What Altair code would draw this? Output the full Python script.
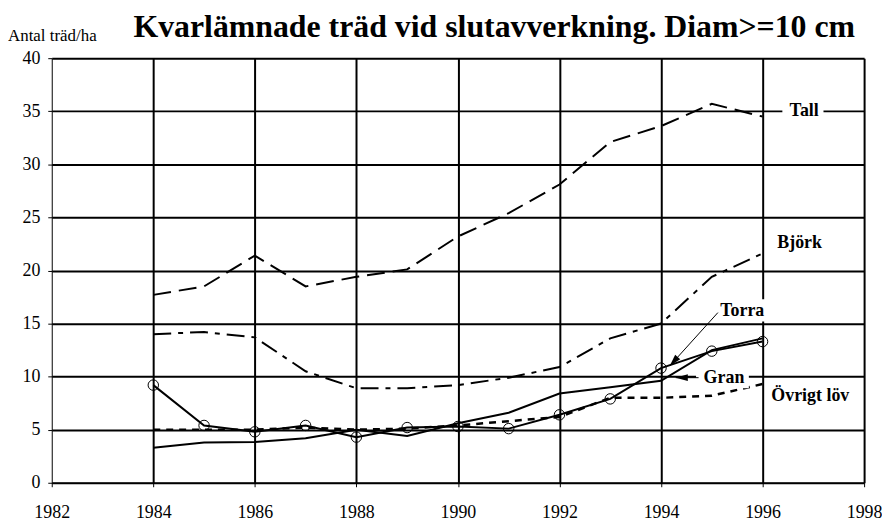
import altair as alt
import pandas as pd

years = list(range(1984, 1997))
tall = [17.7, 18.5, 21.4, 18.5, 19.4, 20.1, 23.2, 25.4, 28.1, 32.1, 33.6, 35.7, 34.5]
bjork = [14.0, 14.2, 13.7, 10.5, 8.9, 8.9, 9.2, 9.9, 10.9, 13.6, 15.0, 19.4, 21.6]
torra = [9.2, 5.4, 4.8, 5.4, 4.3, 5.2, 5.3, 5.1, 6.4, 7.9, 10.8, 12.4, 13.3]
gran = [3.3, 3.8, 3.85, 4.2, 5.0, 4.4, 5.6, 6.6, 8.4, 9.0, 9.6, 12.5, 13.6]
ovrigt = [5.0, 5.0, 5.0, 5.2, 5.0, 5.1, 5.4, 5.8, 6.2, 8.0, 8.0, 8.2, 9.3]

x_ticks = list(range(1982, 1999, 2))
y_ticks = list(range(0, 41, 5))

title_text = "Kvarlämnade träd vid slutavverkning. Diam>=10 cm"
ylabel_text = "Antal träd/ha"

# series name labels (annotation text and anchor in data units)
lab_names = ["Tall", "Björk", "Torra", "Gran", "Övrigt löv"]
lab_x = [1996.82, 1996.73, 1995.6, 1995.24, 1996.94]
lab_y = [35.0, 22.6, 16.15, 9.82, 8.18]

# white boxes behind labels on grid lines
box_x = [1996.39, 1995.14, 1994.69]
box_x2 = [1997.2, 1996.25, 1995.73]
box_y = [34.3, 15.2, 8.9]
box_y2 = [35.7, 17.3, 10.75]

# arrows (start -> tip)
arr_x = [1995.12, 1994.74]
arr_y = [16.03, 9.9]
arr_x2 = [1994.17, 1994.29]
arr_y2 = [11.0, 9.9]
arr_angle = [222, 270]

FONT = "Liberation Serif, Times New Roman, Times, serif"

rows = []
for name, vals in [("Tall", tall), ("Björk", bjork), ("Torra", torra),
                   ("Gran", gran), ("Övrigt löv", ovrigt)]:
    for yr, v in zip(years, vals):
        rows.append({"series": name, "year": yr, "value": v})
df = pd.DataFrame(rows)

X = alt.X("year:Q",
          scale=alt.Scale(domain=[1982, 1998], nice=False, zero=False),
          axis=alt.Axis(values=x_ticks, format="d", title=None,
                        grid=True, gridColor="black",
                        gridWidth={"condition": {"test": "datum.value == 1982", "value": 0}, "value": 2},
                        tickColor="black", tickSize=4, tickWidth=1,
                        domainColor="black", domainWidth=1,
                        labelFont=FONT, labelFontSize=18, labelColor="black",
                        labelPadding=17, labelFlush=False))
Y = alt.Y("value:Q",
          scale=alt.Scale(domain=[0, 40], nice=False),
          axis=alt.Axis(values=y_ticks, title=None,
                        grid=True, gridColor="black", gridWidth=2,
                        tickColor="black", tickSize=4, tickWidth=1,
                        domainColor="black", domainWidth=1,
                        labelFont=FONT, labelFontSize=18, labelColor="black",
                        labelPadding=8, labelFlush=False))

base = alt.Chart(df)

def series_line(name, dash=None, width=2):
    kw = dict(color="black", strokeWidth=width)
    if dash:
        kw["strokeDash"] = dash
    return base.transform_filter(alt.datum.series == name).mark_line(**kw).encode(x=X, y=Y)

l_tall = series_line("Tall", [18, 8], 2)
l_bjork = series_line("Björk", [18, 7, 5, 7], 2)
l_ovr = series_line("Övrigt löv", [7, 6], 2.5)
l_gran = series_line("Gran", None, 2)
l_torra = series_line("Torra", None, 2)
p_torra = base.transform_filter(alt.datum.series == "Torra").mark_point(
    shape="circle", size=110, filled=False, color="black", strokeWidth=1, opacity=1
).encode(x=X, y=Y)

boxes = alt.Chart(pd.DataFrame({"x": box_x, "x2": box_x2, "y": box_y, "y2": box_y2})).mark_rect(
    color="white").encode(x=alt.X("x:Q", scale=alt.Scale(domain=[1982, 1998], nice=False, zero=False)),
                          x2="x2:Q", y=alt.Y("y:Q"), y2="y2:Q")

labels = alt.Chart(pd.DataFrame({"x": lab_x, "y": lab_y, "t": lab_names})).mark_text(
    font=FONT, fontSize=18, fontWeight="bold", color="black", align="center", baseline="middle"
).encode(x="x:Q", y="y:Q", text="t:N")

adf = pd.DataFrame({"x": arr_x, "y": arr_y, "x2": arr_x2, "y2": arr_y2, "a": arr_angle})
arrow_lines = alt.Chart(adf).mark_rule(color="black", strokeWidth=1).encode(
    x="x:Q", y="y:Q", x2="x2:Q", y2="y2:Q")
arrow_heads = alt.Chart(adf).mark_point(
    shape="M0,0L-0.45,1.6L0.45,1.6Z", filled=True, color="black", size=230, opacity=1
).encode(x="x2:Q", y="y2:Q", angle=alt.Angle("a:Q", scale=None))

title = alt.Chart(pd.DataFrame({"t": [title_text]})).mark_text(
    font=FONT, fontSize=32, fontWeight="bold", color="black", align="center", baseline="alphabetic"
).encode(text="t:N", x=alt.value(445), y=alt.value(-21))

ylabel = alt.Chart(pd.DataFrame({"t": [ylabel_text]})).mark_text(
    font=FONT, fontSize=17, color="black", align="left", baseline="alphabetic"
).encode(text="t:N", x=alt.value(-44), y=alt.value(-17))

chart = alt.layer(
    l_tall, l_bjork, l_ovr, l_gran, l_torra, p_torra,
    boxes, labels, arrow_lines, arrow_heads, title, ylabel
).properties(
    width=817, height=427,
    autosize=alt.AutoSizeParams(type="none"),
    padding={"left": 44, "top": 49, "right": 18, "bottom": 38},
    background="white",
).configure_view(strokeWidth=0)

chart.save("out.html", embed_options={"renderer": "svg", "actions": False})
